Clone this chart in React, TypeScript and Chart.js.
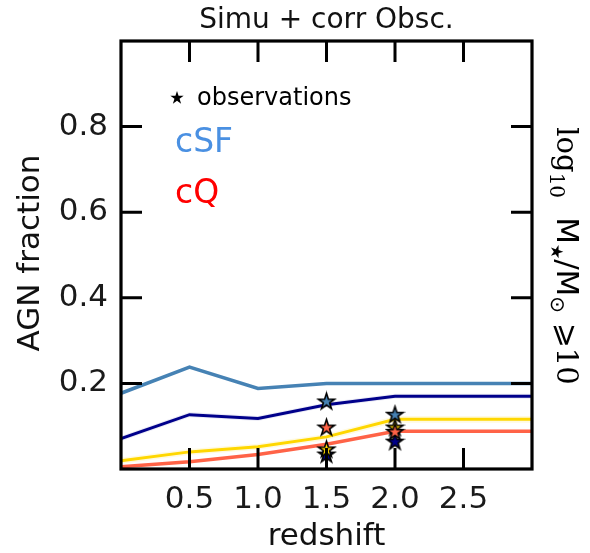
import React, { useEffect, useRef } from "react";
import { Chart, registerables } from "chart.js";

Chart.register(...registerables);

// ---- data ----
const redshift = [0, 0.5, 1.0, 1.5, 2.0, 2.5, 3.0];
const steelLine = [0.177, 0.238, 0.188, 0.2, 0.2, 0.2, 0.2];
const navyLine = [0.071, 0.127, 0.118, 0.15, 0.17, 0.17, 0.17];
const navyLow = [0.065, 0.121, 0.112, 0.144, 0.164, 0.164, 0.164];
const navyHigh = [0.077, 0.133, 0.124, 0.156, 0.176, 0.176, 0.176];
const goldLine = [0.019, 0.04, 0.052, 0.075, 0.116, 0.116, 0.116];
const goldLow = [0.012, 0.033, 0.045, 0.068, 0.108, 0.108, 0.108];
const goldHigh = [0.026, 0.047, 0.059, 0.082, 0.124, 0.124, 0.124];
const tomatoLine = [0.005, 0.017, 0.034, 0.058, 0.088, 0.088, 0.088];

const obsZ = [1.5, 2.0];
const obsSteel = [0.159, 0.128];
const obsTomato = [0.098, 0.088];
const obsGold = [0.047, 0.098];
const obsNavy = [0.035, 0.065];

const xTickLabels = ["0.5", "1.0", "1.5", "2.0", "2.5"];
const yTickLabels = ["0.2", "0.4", "0.6", "0.8"];

const C_STEEL = "#4682b4";
const C_NAVY = "#00008b";
const C_GOLD = "#ffd700";
const C_TOMATO = "#ff6347";

const pts = (xs: number[], ys: number[]) => xs.map((x, i) => ({ x, y: ys[i] }));

function starPath(ctx: CanvasRenderingContext2D, cx: number, cy: number, R: number) {
  const r = R * 0.382;
  ctx.beginPath();
  for (let i = 0; i < 10; i++) {
    const rad = i % 2 === 0 ? R : r;
    const a = -Math.PI / 2 + (i * Math.PI) / 5;
    const px = cx + rad * Math.cos(a);
    const py = cy + rad * Math.sin(a);
    if (i === 0) ctx.moveTo(px, py);
    else ctx.lineTo(px, py);
  }
  ctx.closePath();
}

function makeStar(color: string, R: number) {
  const c = document.createElement("canvas");
  const s = Math.ceil(R * 2 + 4);
  c.width = s;
  c.height = s;
  const ctx = c.getContext("2d")!;
  starPath(ctx, s / 2, s / 2 + R * 0.1, R);
  ctx.fillStyle = color;
  ctx.fill();
  ctx.lineWidth = 1.6;
  ctx.lineJoin = "miter";
  ctx.strokeStyle = "#000";
  ctx.stroke();
  return c;
}

const decorPlugin = {
  id: "decor",
  afterDraw(chart: any) {
    const { ctx, chartArea: a, scales } = chart;
    const xs = scales.x;
    const ys = scales.y;
    ctx.save();
    // frame
    ctx.strokeStyle = "#000";
    ctx.lineWidth = 3.2;
    ctx.strokeRect(a.left, a.top, a.right - a.left, a.bottom - a.top);
    // inward ticks
    const TL = 21;
    ctx.lineWidth = 3;
    ctx.beginPath();
    xTickLabels.forEach((t) => {
      const px = xs.getPixelForValue(parseFloat(t));
      ctx.moveTo(px, a.bottom);
      ctx.lineTo(px, a.bottom - TL);
      ctx.moveTo(px, a.top);
      ctx.lineTo(px, a.top + TL);
    });
    yTickLabels.forEach((t) => {
      const py = ys.getPixelForValue(parseFloat(t));
      ctx.moveTo(a.left, py);
      ctx.lineTo(a.left + TL, py);
      ctx.moveTo(a.right, py);
      ctx.lineTo(a.right - TL, py);
    });
    ctx.stroke();

    const cx = (a.left + a.right) / 2;
    const cy = (a.top + a.bottom) / 2;
    ctx.fillStyle = "#111";
    ctx.textBaseline = "middle";
    // title
    ctx.textAlign = "center";
    ctx.font = '28px "DejaVu Sans"';
    ctx.fillText("Simu + corr Obsc.", cx, 21);
    // x title
    ctx.font = '31px "DejaVu Sans"';
    ctx.fillText("redshift", cx, 537);
    // y title
    ctx.save();
    ctx.translate(31, cy - 2);
    ctx.rotate(-Math.PI / 2);
    ctx.fillText("AGN fraction", 0, 0);
    ctx.restore();

    // legend
    ctx.textAlign = "left";
    ctx.fillStyle = "#000";
    starPath(ctx, 177, 98, 7);
    ctx.fill();
    ctx.font = '24px "DejaVu Sans"';
    ctx.fillText("observations", 197, 99);
    ctx.font = '33px "DejaVu Sans"';
    ctx.fillStyle = "#4a90e2";
    ctx.fillText("cSF", 175, 143);
    ctx.fillStyle = "#ff0000";
    ctx.fillText("cQ", 175, 194);

    // right label (rotated, reading downward)
    const pieces = [
      { t: "log", f: '29px "DejaVu Serif"', dy: 0 },
      { t: "10", f: '20px "DejaVu Serif"', dy: 7 },
      { t: "  ", f: '30px "DejaVu Sans"', dy: 0 },
      { t: "M", f: '31px "DejaVu Sans"', dy: 0 },
      { t: "★", f: '17px "DejaVu Sans"', dy: 6 },
      { t: "/M", f: '31px "DejaVu Sans"', dy: 0 },
      { t: "⊙", f: '20px "DejaVu Sans"', dy: 6 },
      { t: " ⩾", f: '30px "DejaVu Sans"', dy: 0 },
      { t: "10", f: '29px "DejaVu Serif"', dy: 0 },
    ];
    ctx.save();
    ctx.fillStyle = "#000";
    ctx.textBaseline = "alphabetic";
    let total = 0;
    const widths = pieces.map((p) => {
      ctx.font = p.f;
      const w = ctx.measureText(p.t).width;
      total += w;
      return w;
    });
    ctx.translate(557, 256);
    ctx.rotate(Math.PI / 2);
    let x = -total / 2;
    pieces.forEach((p, i) => {
      ctx.font = p.f;
      ctx.fillText(p.t, x, p.dy);
      x += widths[i];
    });
    ctx.restore();

    ctx.restore();
  },
};

export default function App() {
  const ref = useRef<HTMLCanvasElement>(null);
  useEffect(() => {
    if (!ref.current) return;
    const R = 8.5;
    const starSteel = makeStar(C_STEEL, R);
    const starTomato = makeStar(C_TOMATO, R);
    const starGold = makeStar(C_GOLD, R);
    const starNavy = makeStar(C_NAVY, R);
    const starDs = (data: number[], style: HTMLCanvasElement) => ({
      type: "scatter" as const,
      data: pts(obsZ, data),
      pointStyle: style,
      pointRadius: 8,
      showLine: false,
    });
    const lineDs = (data: number[], color: string, w: number) => ({
      type: "line" as const,
      data: pts(redshift, data),
      borderColor: color,
      borderWidth: w,
      pointRadius: 0,
      fill: false,
      tension: 0,
    });
    const bandDs = (data: number[], fill: any, bg: string) => ({
      type: "line" as const,
      data: pts(redshift, data),
      borderWidth: 0,
      borderColor: "rgba(0,0,0,0)",
      backgroundColor: bg,
      pointRadius: 0,
      fill,
      tension: 0,
    });
    const chart = new Chart(ref.current, {
      type: "line",
      data: {
        datasets: [
          starDs(obsSteel, starSteel),
          starDs(obsTomato, starTomato),
          starDs(obsGold, starGold),
          starDs(obsNavy, starNavy),
          lineDs(steelLine, C_STEEL, 3.5),
          lineDs(navyLine, C_NAVY, 3),
          lineDs(goldLine, C_GOLD, 3),
          lineDs(tomatoLine, C_TOMATO, 3.5),
          bandDs(navyLow, false, "rgba(0,0,139,0.08)"),
          bandDs(navyHigh, "-1", "rgba(0,0,139,0.08)"),
          bandDs(goldLow, false, "rgba(255,215,0,0.12)"),
          bandDs(goldHigh, "-1", "rgba(255,215,0,0.12)"),
        ] as any,
      },
      options: {
        animation: false,
        responsive: false,
        layout: { padding: { top: 41, right: 58, left: 0, bottom: 0 } },
        plugins: { legend: { display: false }, tooltip: { enabled: false }, title: { display: false } },
        scales: {
          x: {
            type: "linear",
            min: 0,
            max: 3,
            grid: { display: false, drawTicks: false },
            border: { display: false },
            ticks: {
              stepSize: 0.5,
              padding: 12,
              maxRotation: 0,
              color: "#1a1a1a",
              font: { family: "DejaVu Sans", size: 31 },
              callback: (v: any) => {
                const s = Number(v).toFixed(1);
                return xTickLabels.includes(s) ? s : "";
              },
            },
            afterFit: (s: any) => {
              s.height = 84;
            },
          },
          y: {
            type: "linear",
            min: 0,
            max: 1,
            grid: { display: false, drawTicks: false },
            border: { display: false },
            ticks: {
              stepSize: 0.2,
              padding: 13,
              color: "#1a1a1a",
              font: { family: "DejaVu Sans", size: 31 },
              callback: (v: any) => {
                const s = Number(v).toFixed(1);
                return yTickLabels.includes(s) ? s : "";
              },
            },
            afterFit: (s: any) => {
              s.width = 121;
            },
          },
        },
      },
      plugins: [decorPlugin],
    });
    return () => chart.destroy();
  }, []);
  return (
    <div style={{ position: "fixed", left: 0, top: 0, width: 590, height: 553, background: "#fff" }}>
      <canvas ref={ref} width={590} height={553} style={{ width: 590, height: 553 }} />
    </div>
  );
}
